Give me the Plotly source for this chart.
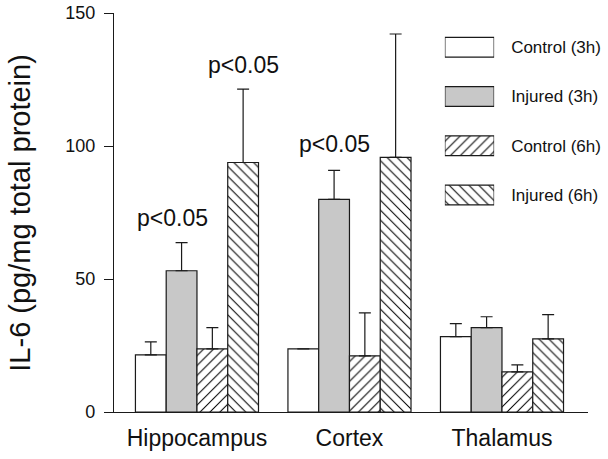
import plotly.graph_objects as go

# ---- data ----
categories = ["Hippocampus", "Cortex", "Thalamus"]
series_names = ["Control (3h)", "Injured (3h)", "Control (6h)", "Injured (6h)"]
control_3h = [21.5, 23.7, 28.3]
control_3h_err = [4.9, 0.0, 4.9]
injured_3h = [53.1, 79.9, 31.7]
injured_3h_err = [10.6, 10.9, 4.1]
control_6h = [23.7, 21.1, 15.1]
control_6h_err = [8.0, 16.2, 2.6]
injured_6h = [93.8, 95.7, 27.5]
injured_6h_err = [27.6, 46.4, 9.1]
y_ticks = [0, 50, 100, 150]
y_title = "IL-6 (pg/mg total protein)"
# significance labels: (category index, series index, y value, text)
sig_cat = [0, 0, 1]
sig_series = [1, 3, 1]
sig_y = [73, 130.4, 100.6]
sig_text = ["p<0.05", "p<0.05", "p<0.05"]

values = [control_3h, injured_3h, control_6h, injured_6h]
errors = [control_3h_err, injured_3h_err, control_6h_err, injured_6h_err]

# ---- styles ----
FONT = "Liberation Sans, Arial, sans-serif"
fills = ["white", "#c8c8c8", "white", "white"]
shapes = ["", "", "/", "\\"]
LINE = "#1a1a1a"
xpos = list(range(len(categories)))

def pattern(sh):
    return dict(shape=sh, fgcolor="black", bgcolor="white",
                size=7, solidity=0.15, fillmode="replace")

fig = go.Figure()
for name, vals, errs, fc, sh in zip(series_names, values, errors, fills, shapes):
    fig.add_trace(go.Bar(
        x=xpos, y=vals, name=name,
        marker=dict(color=fc, line=dict(color=LINE, width=1.2), pattern=pattern(sh)),
        error_y=dict(type="data", symmetric=False, array=errs,
                     arrayminus=[0] * len(errs), color=LINE, thickness=1.2, width=6),
        showlegend=False, xaxis="x", yaxis="y",
    ))

# legend drawn as swatches on a small secondary axis
for name, fc, sh in zip(series_names, fills, shapes):
    fig.add_trace(go.Bar(
        y=[name], x=[1], orientation="h", offsetgroup="legend",
        marker=dict(color=fc, line=dict(color=LINE, width=1.2), pattern=pattern(sh)),
        xaxis="x2", yaxis="y2", showlegend=False, hoverinfo="skip", width=0.4,
    ))

n = len(series_names)
group_w = 1 - 0.193
bar_w = group_w / n
annotations = []
for ci, si, yv, tx in zip(sig_cat, sig_series, sig_y, sig_text):
    xv = ci - group_w / 2 + bar_w * (si + 0.5)
    annotations.append(dict(x=xv, y=yv, xref="x", yref="y", text=tx, showarrow=False,
                            xshift=-9 if (ci == 0 and si == 1) else 0,
                            font=dict(family=FONT, size=23, color="#111")))
annotations.append(dict(x=-0.2, y=0.5, xref="paper", yref="paper", text=y_title,
                        textangle=-90, showarrow=False, xanchor="center", yanchor="middle",
                        font=dict(family=FONT, size=29, color="#111")))

fig.update_layout(
    width=608, height=459,
    margin=dict(l=114, r=20, t=13, b=47, autoexpand=False),
    paper_bgcolor="white", plot_bgcolor="white",
    barmode="group", bargap=0.193, bargroupgap=0,
    font=dict(family=FONT, color="#111"),
    showlegend=False,
    annotations=annotations,
    xaxis=dict(range=[-0.544, 2.564], tickvals=xpos, ticktext=categories,
               showline=True, linecolor=LINE, linewidth=1.2, ticks="",
               showgrid=False, zeroline=False, tickfont=dict(size=23),
               ticklabelstandoff=5, automargin=False),
    yaxis=dict(range=[0, 150], tickvals=y_ticks, showline=True, linecolor=LINE,
               linewidth=1.2, ticks="outside", ticklen=9, tickcolor=LINE,
               showgrid=False, zeroline=False, tickfont=dict(size=18),
               ticklabelstandoff=5, automargin=False),
    xaxis2=dict(domain=[0.698, 0.802], range=[0, 1], visible=False, anchor="y2",
                automargin=False),
    yaxis2=dict(domain=[0.482, 0.976], anchor="x2", side="right",
                autorange="reversed", showline=False, ticks="", showgrid=False,
                zeroline=False, tickfont=dict(size=17), ticklabelstandoff=16,
                automargin=False),
)

# remove the browser's default body margin so the figure fills the window
fig.write_html("out.html", config={"displayModeBar": False},
               post_script="document.body.style.margin='0';")
